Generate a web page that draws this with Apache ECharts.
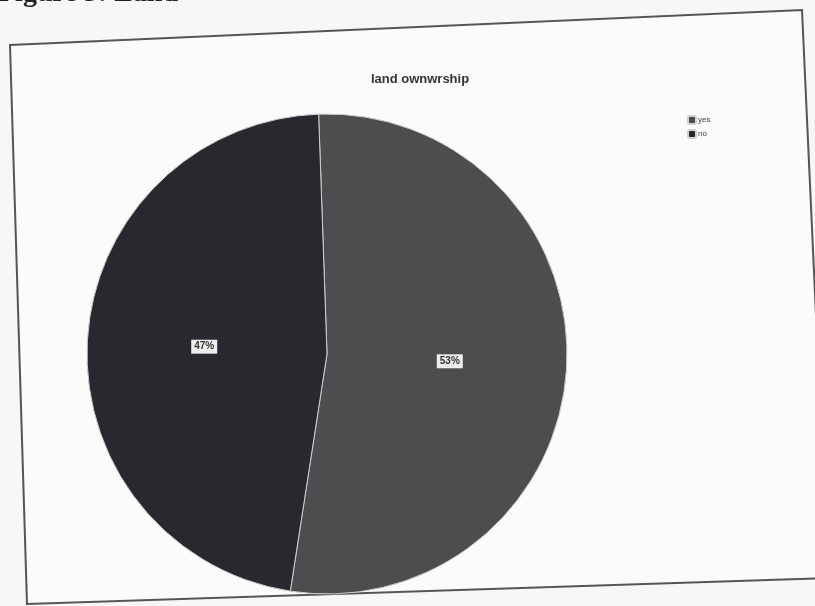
<!DOCTYPE html>
<html>
<head>
<meta charset="utf-8">
<script src="https://cdn.jsdelivr.net/npm/echarts@6/dist/echarts.min.js"></script>
<style>
html,body{margin:0;padding:0;background:#f7f7f7;}
#chart{width:815px;height:606px;}
</style>
</head>
<body>
<div id="chart"></div>
<script>
const titleText = "land ownwrship";
const categories = ["yes", "no"];
const values = [53, 47];
const labels = ["53%", "47%"];
const colors = ["#4d4d50", "#28282e"];

const chart = echarts.init(document.getElementById('chart'));
chart.setOption({
  backgroundColor: '#f7f7f7',
  animation: false,
  title: {
    text: titleText,
    left: 415, top: 68, textAlign: 'center',
    textStyle: {fontFamily: 'Liberation Sans', fontSize: 13, fontWeight: 'bold', color: '#333'}
  },
  legend: {
    orient: 'vertical', left: 682, top: 110,
    itemWidth: 8, itemHeight: 8, itemGap: 4,
    textStyle: {fontFamily: 'Liberation Sans', fontSize: 8, color: '#444', padding: [0,0,0,-3]},
    data: categories
  },
  graphic: [
    {type: 'polygon', z: -10, shape: {points: [[10,45],[802,10],[828,578],[27,604]]},
     style: {fill: '#fbfbfb', stroke: '#555', lineWidth: 2}},
    {type: 'text', left: -2, top: -20, z: -5,
     style: {text: 'Figure 5: Land', font: 'bold 28px "Liberation Serif"', fill: '#222'}}
  ],
  series: [{
    type: 'pie',
    center: [327, 354],
    radius: 240,
    startAngle: 92,
    clockwise: true,
    itemStyle: {borderColor: '#cfcfcf', borderWidth: 1},
    label: {
      position: 'inside',
      formatter: p => labels[p.dataIndex],
      backgroundColor: '#eee', color: '#333',
      fontFamily: 'Liberation Sans', fontSize: 10, fontWeight: 'bold',
      padding: [2,3]
    },
    labelLine: {show: false},
    data: categories.map((c, i) => ({name: c, value: values[i], itemStyle: {color: colors[i]}}))
  }]
});
</script>
</body>
</html>
